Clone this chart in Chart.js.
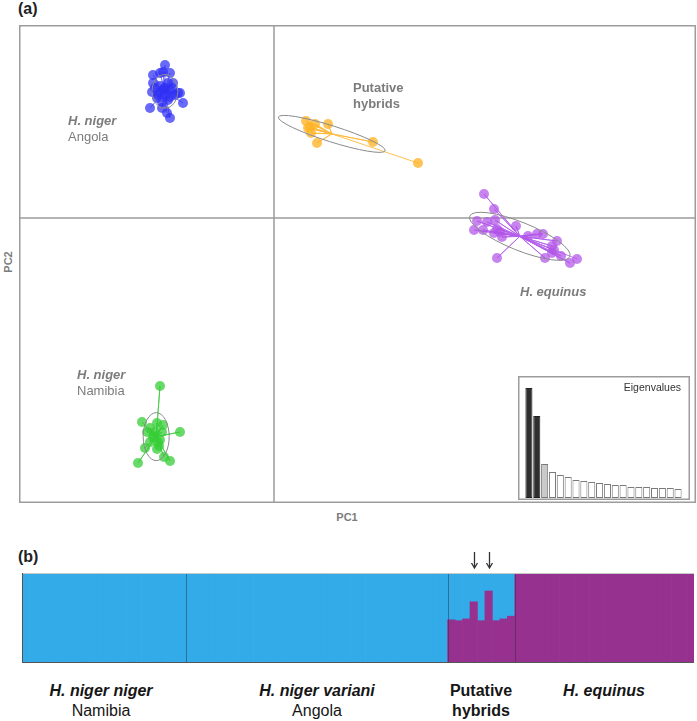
<!DOCTYPE html>
<html>
<head>
<meta charset="utf-8">
<script src="https://cdn.jsdelivr.net/npm/chart.js@4.4.1/dist/chart.umd.min.js"></script>
<style>
  body { margin: 0; width: 697px; height: 721px; background: #fff; position: relative; overflow: hidden;
         font-family: 'Liberation Sans', Arial, sans-serif; }
  canvas { position: absolute; }
  .t { position: absolute; white-space: nowrap; line-height: 1; transform: translateY(-50%); }
  .c { transform: translate(-50%, -50%); }
  .b { font-weight: bold; }
  .bi { font-weight: bold; font-style: italic; }
  .g { color: #7c7c7c; font-size: 13px; }
  .lab { font-size: 16px; color: #161616; }
</style>
</head>
<body>
<div class="t b" style="left:18px;top:9px;font-size:16px;color:#222">(a)</div>
<canvas id="pca" width="677" height="478" style="left:19px;top:25px"></canvas>
<canvas id="eig" width="172" height="124" style="left:518px;top:376px"></canvas>
<div class="t" style="right:16px;top:387px;font-size:10.5px;color:#333">Eigenvalues</div>

<div class="t b" style="left:8px;top:262px;font-size:11px;color:#7c7c7c;transform:translate(-50%,-50%) rotate(-90deg)">PC2</div>
<div class="t b c" style="left:347px;top:517px;font-size:11px;color:#7c7c7c">PC1</div>

<div class="t g bi" style="left:68px;top:120px">H. niger</div>
<div class="t g" style="left:68px;top:136px">Angola</div>
<div class="t g b" style="left:353px;top:87px">Putative</div>
<div class="t g b" style="left:353px;top:103px">hybrids</div>
<div class="t g bi" style="left:520px;top:291px">H. equinus</div>
<div class="t g bi" style="left:77px;top:374px">H. niger</div>
<div class="t g" style="left:77px;top:390px">Namibia</div>

<div class="t b" style="left:18px;top:557px;font-size:16px;color:#222">(b)</div>
<canvas id="structure" width="672" height="118" style="left:22px;top:545px"></canvas>

<div class="t c lab bi" style="left:101px;top:691px">H. niger niger</div>
<div class="t c lab" style="left:101px;top:711px">Namibia</div>
<div class="t c lab bi" style="left:317px;top:691px">H. niger variani</div>
<div class="t c lab" style="left:317px;top:711px">Angola</div>
<div class="t c lab b" style="left:481px;top:691px">Putative</div>
<div class="t c lab b" style="left:481px;top:711px">hybrids</div>
<div class="t c lab bi" style="left:604px;top:691px">H. equinus</div>

<script>
// ---- PCA scores (PC1, PC2) per group ----
const angolaPts = [
  [-1.09, 1.53], [-1.14, 1.45], [-1.04, 1.45], [-1.21, 1.43], [-1.11, 1.46], [-1.21, 1.35],
  [-1.06, 1.35], [-1.01, 1.35], [-1.14, 1.32], [-1.09, 1.30], [-1.04, 1.28], [-1.22, 1.26],
  [-0.96, 1.25], [-0.94, 1.25], [-1.17, 1.20], [-1.04, 1.21], [-1.14, 1.25], [-1.11, 1.28],
  [-0.91, 1.15], [-1.24, 1.10], [-1.12, 1.10], [-1.07, 1.05], [-1.04, 1.00], [-1.16, 1.23],
  [-1.09, 1.23], [-0.99, 1.23], [-1.19, 1.30], [-1.06, 1.18], [-1.12, 1.16], [-1.02, 1.30]
];
const hybridPts = [
  [0.32, 0.97], [0.41, 0.94], [0.36, 0.91], [0.34, 0.90], [0.54, 0.94],
  [0.37, 0.85], [0.43, 0.75], [0.99, 0.76], [1.44, 0.55]
];
const equinusPts = [
  [2.10, 0.24], [2.20, 0.09], [2.03, -0.03], [2.13, -0.04], [2.21, -0.02], [2.42, -0.08],
  [2.00, -0.12], [2.09, -0.12], [2.23, -0.11], [2.26, -0.14], [2.20, -0.15], [2.28, -0.19],
  [2.54, -0.18], [2.63, -0.16], [2.69, -0.16], [2.83, -0.23], [2.78, -0.28], [2.80, -0.32],
  [2.78, -0.35], [2.23, -0.40], [2.71, -0.40], [2.87, -0.38], [2.96, -0.45], [3.03, -0.41]
];
const namibiaPts = [
  [-1.14, -1.68], [-1.32, -2.04], [-1.17, -2.05], [-1.11, -2.07], [-1.24, -2.10], [-0.94, -2.14],
  [-1.19, -2.14], [-1.12, -2.14], [-1.21, -2.19], [-1.14, -2.22], [-1.24, -2.24], [-1.29, -2.30],
  [-1.17, -2.31], [-1.10, -2.39], [-1.36, -2.45], [-1.04, -2.43], [-1.16, -2.24], [-1.27, -2.14],
  [-1.20, -2.18], [-1.15, -2.28]
];

// ellipse half-axes (PC units) and tilt in degrees, same order as groups below
const ellipseMajor = [0.17, 0.56, 0.54, 0.24];
const ellipseMinor = [0.13, 0.08, 0.14, 0.13];
const ellipseTilt = [90, 17.5, 22, 90];

// ---- eigenvalues (inset) ----
const eigenvalues = [11.0, 8.2, 3.4, 2.6, 2.3, 2.1, 1.8, 1.7, 1.6, 1.5,
                     1.4, 1.3, 1.3, 1.1, 1.1, 1.1, 1.0, 1.0, 1.0, 0.9];

// ---- STRUCTURE: share of H. equinus cluster per individual ----
const namibiaQ = [0, 0, 0.008, 0, 0, 0, 0, 0, 0.008, 0, 0, 0, 0, 0, 0.008, 0, 0, 0, 0.008, 0, 0, 0];
const angolaQ = [0, 0, 0, 0, 0, 0, 0, 0, 0, 0, 0, 0, 0, 0, 0, 0, 0, 0,
                 0, 0, 0, 0, 0, 0, 0, 0, 0, 0, 0, 0, 0, 0, 0, 0, 0];
const hybridQ = [0.48, 0.47, 0.49, 0.68, 0.47, 0.80, 0.47, 0.49, 0.52];
const equinusQ = [1, 1, 1, 1, 1, 1, 1, 1, 1, 1, 1, 1, 1, 1, 1, 1, 1, 1, 1, 1, 1, 1, 1, 1];
const flaggedHybrids = [3, 5];

const groups = [
  { pts: angolaPts, fill: 'rgba(48,48,245,0.72)', line: 'rgba(90,90,240,0.55)' },
  { pts: hybridPts, fill: 'rgba(255,180,40,0.78)', line: 'rgba(255,185,60,0.9)' },
  { pts: equinusPts, fill: 'rgba(178,85,232,0.72)', line: 'rgba(180,95,235,0.85)' },
  { pts: namibiaPts, fill: 'rgba(55,205,55,0.75)', line: 'rgba(70,205,70,0.85)' }
];

function centroid(pts) {
  const n = pts.length;
  return [pts.reduce((s, p) => s + p[0], 0) / n, pts.reduce((s, p) => s + p[1], 0) / n];
}

const datasets = [];
groups.forEach(g => {
  const c = centroid(g.pts);
  const star = [];
  g.pts.forEach(p => { star.push({ x: c[0], y: c[1] }, { x: p[0], y: p[1] }); });
  datasets.push({
    data: star, showLine: true, borderColor: g.line, borderWidth: 1,
    pointRadius: 0, order: 2
  });
  datasets.push({
    data: g.pts.map(p => ({ x: p[0], y: p[1] })),
    backgroundColor: g.fill, pointRadius: 5, pointBorderWidth: 0, order: 1
  });
});

const pcaDecor = {
  id: 'pcaDecor',
  beforeDatasetsDraw(chart) {
    const { ctx, chartArea: a, scales: { x, y } } = chart;
    ctx.save();
    ctx.strokeStyle = '#9c9c9c';
    ctx.lineWidth = 1.5;
    const x0 = x.getPixelForValue(0), y0 = y.getPixelForValue(0);
    ctx.beginPath();
    ctx.moveTo(x0, a.top); ctx.lineTo(x0, a.bottom);
    ctx.moveTo(a.left, y0); ctx.lineTo(a.right, y0);
    ctx.stroke();
    ctx.strokeRect(a.left + 0.75, a.top + 0.75, a.width - 1.5, a.height - 1.5);
    ctx.restore();
  },
  afterDatasetsDraw(chart) {
    const { ctx, scales: { x, y } } = chart;
    const ux = x.getPixelForValue(1) - x.getPixelForValue(0);
    const uy = y.getPixelForValue(0) - y.getPixelForValue(1);
    ctx.save();
    ctx.strokeStyle = '#8a8a8a';
    ctx.lineWidth = 1;
    groups.forEach((g, i) => {
      const c = centroid(g.pts);
      ctx.beginPath();
      ctx.ellipse(x.getPixelForValue(c[0]), y.getPixelForValue(c[1]),
        ellipseMajor[i] * ux, ellipseMinor[i] * uy, ellipseTilt[i] * Math.PI / 180, 0, Math.PI * 2);
      ctx.stroke();
    });
    ctx.restore();
  }
};

new Chart(document.getElementById('pca'), {
  type: 'scatter',
  data: { datasets },
  options: {
    responsive: false,
    animation: false,
    layout: { padding: 0, autoPadding: false },
    plugins: { legend: { display: false }, tooltip: { enabled: false } },
    scales: {
      x: { type: 'linear', min: -2.55, max: 4.22, display: false },
      y: { type: 'linear', min: -2.85, max: 1.93, display: false }
    }
  },
  plugins: [pcaDecor]
});

// ---- eigenvalue inset ----
const eigBox = {
  id: 'eigBox',
  beforeDraw(chart) {
    const { ctx, width, height } = chart;
    ctx.save();
    ctx.fillStyle = '#fff';
    ctx.fillRect(0, 0, width, height);
    ctx.strokeStyle = '#9c9c9c';
    ctx.lineWidth = 1.5;
    ctx.strokeRect(0.75, 0.75, width - 1.5, height - 1.5);
    ctx.restore();
  }
};

new Chart(document.getElementById('eig'), {
  type: 'bar',
  data: {
    labels: eigenvalues.map((v, i) => 'Axis ' + (i + 1)),
    datasets: [{
      data: eigenvalues,
      backgroundColor: eigenvalues.map((v, i) => i < 2 ? '#2e2e2e' : i < 3 ? '#c9c9c9' : '#ffffff'),
      borderColor: eigenvalues.map((v, i) => i < 2 ? '#222' : '#7a7a7a'),
      borderWidth: 1,
      borderSkipped: false,
      barPercentage: 0.9,
      categoryPercentage: 1
    }]
  },
  options: {
    responsive: false,
    animation: false,
    layout: { padding: { left: 7, right: 8, top: 4, bottom: 2 }, autoPadding: false },
    plugins: { legend: { display: false }, tooltip: { enabled: false } },
    scales: {
      x: { display: false },
      y: { display: false, min: 0, max: 11.8 }
    }
  },
  plugins: [eigBox]
});

// ---- STRUCTURE barplot ----
const purpleQ = [...namibiaQ, ...angolaQ, ...hybridQ, ...equinusQ];
const blueQ = purpleQ.map(v => 1 - v);
const sizes = [namibiaQ.length, angolaQ.length, hybridQ.length, equinusQ.length];
const ids = purpleQ.map((v, i) => 'ind' + (i + 1));

const structDecor = {
  id: 'structDecor',
  afterDatasetsDraw(chart) {
    const { ctx, chartArea: a, scales: { x } } = chart;
    ctx.save();
    // group separators
    ctx.strokeStyle = 'rgba(40,40,60,0.45)';
    ctx.lineWidth = 1;
    let idx = 0;
    sizes.slice(0, -1).forEach(n => {
      idx += n;
      const px = Math.round((x.getPixelForValue(idx - 1) + x.getPixelForValue(idx)) / 2) + 0.5;
      ctx.beginPath(); ctx.moveTo(px, a.top); ctx.lineTo(px, a.bottom); ctx.stroke();
    });
    // frame
    ctx.strokeStyle = '#c8c8c8';
    ctx.beginPath(); ctx.moveTo(a.left, a.top + 0.5); ctx.lineTo(a.right, a.top + 0.5); ctx.stroke();
    ctx.strokeStyle = '#555';
    ctx.beginPath();
    ctx.moveTo(a.left + 0.5, a.top); ctx.lineTo(a.left + 0.5, a.bottom - 0.5); ctx.lineTo(a.right, a.bottom - 0.5);
    ctx.stroke();
    // arrows over flagged hybrids
    const off = sizes[0] + sizes[1];
    ctx.strokeStyle = '#333';
    ctx.lineWidth = 1.3;
    flaggedHybrids.forEach(h => {
      const px = Math.round(x.getPixelForValue(off + h)) + 0.5;
      ctx.beginPath();
      ctx.moveTo(px, 7); ctx.lineTo(px, 23);
      ctx.moveTo(px - 3, 18); ctx.lineTo(px, 23); ctx.lineTo(px + 3, 18);
      ctx.stroke();
    });
    ctx.restore();
  }
};

new Chart(document.getElementById('structure'), {
  type: 'bar',
  data: {
    labels: ids,
    datasets: [
      { data: purpleQ, backgroundColor: '#97318f', barPercentage: 1, categoryPercentage: 1, borderWidth: 0 },
      { data: blueQ, backgroundColor: '#32abe8', barPercentage: 1, categoryPercentage: 1, borderWidth: 0 }
    ]
  },
  options: {
    responsive: false,
    animation: false,
    layout: { padding: { top: 28, left: 0, right: 0, bottom: 0 }, autoPadding: false },
    plugins: { legend: { display: false }, tooltip: { enabled: false } },
    scales: {
      x: { stacked: true, display: false },
      y: { stacked: true, display: false, min: 0, max: 1 }
    }
  },
  plugins: [structDecor]
});
</script>
</body>
</html>
